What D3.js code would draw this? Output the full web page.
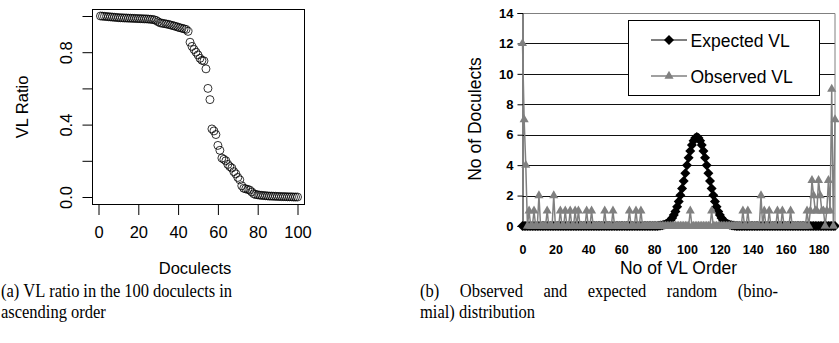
<!DOCTYPE html>
<html>
<head>
<meta charset="utf-8">
<script src="https://cdn.jsdelivr.net/npm/d3@7"></script>
<style>
body { margin: 0; background: #fff; }
svg { display: block; }
</style>
</head>
<body>
<svg id="chart" width="839" height="343"></svg>
<script>
// ---- panel (a): VL ratio per doculect, sorted ----
var ratioValues = [
  1.000, 0.999, 0.998, 0.997, 0.996, 0.995, 0.994, 0.993, 0.992, 0.991,
  0.990, 0.990, 0.989, 0.989, 0.988, 0.988, 0.987, 0.987, 0.986, 0.986,
  0.985, 0.985, 0.984, 0.984, 0.983, 0.982, 0.981, 0.979, 0.975, 0.968,
  0.962, 0.960, 0.958, 0.956, 0.954, 0.951, 0.948, 0.945, 0.942, 0.938,
  0.935, 0.932, 0.929, 0.926, 0.915, 0.855, 0.832, 0.815, 0.800, 0.785,
  0.766, 0.755, 0.752, 0.708, 0.600, 0.538, 0.376, 0.365, 0.345, 0.285,
  0.258, 0.215, 0.208, 0.200, 0.180, 0.168, 0.160, 0.140, 0.128, 0.108,
  0.095, 0.062, 0.048, 0.045, 0.042, 0.038, 0.028, 0.018, 0.014, 0.012,
  0.010, 0.009, 0.008, 0.007, 0.006, 0.005, 0.005, 0.004, 0.004, 0.003,
  0.003, 0.002, 0.002, 0.002, 0.001, 0.001, 0.001, 0.000, 0.000, 0.000
];
var ratioTicksX = [0, 20, 40, 60, 80, 100];
var ratioTicksY = [0, 0.2, 0.4, 0.6, 0.8, 1];
var ratioLabelsY = ["0.0", "", "0.4", "", "0.8", ""];
var ratioTitleX = "Doculects";
var ratioTitleY = "VL Ratio";

// ---- panel (b): number of doculects per count of VL orders ----
var orderMax = 190;
var orderTicks = [0, 20, 40, 60, 80, 100, 120, 140, 160, 180];
var countTicks = [0, 2, 4, 6, 8, 10, 12, 14];
// observed: [VL order count, doculects], every other category is 0
var observedCounts = [
  [0, 12], [1, 7], [2, 4], [4, 1], [7, 1], [10, 2], [15, 1], [19, 2],
  [23, 1], [26, 1], [29, 1], [32, 1], [34, 1], [39, 1], [42, 1], [50, 1],
  [55, 1], [65, 1], [69, 1], [72, 1], [102, 1], [115, 1], [134, 1], [137, 1],
  [145, 2], [147, 1], [150, 1], [155, 1], [158, 1], [163, 1], [173, 1], [175, 1],
  [176, 3], [177, 2], [178, 1], [179, 1], [180, 3], [181, 2], [182, 1], [183, 1],
  [185, 1], [186, 3], [187, 1], [188, 9], [190, 7]
];
// expected (binomial), starting at category 83, 0 elsewhere
var expectedStart = 83;
var expectedCounts = [
  0.02, 0.03, 0.05, 0.08, 0.12, 0.18, 0.27, 0.38, 0.53, 0.72,
  0.96, 1.26, 1.61, 2.02, 2.47, 2.96, 3.47, 3.99, 4.48, 4.93,
  5.32, 5.61, 5.79, 5.85, 5.79, 5.61, 5.32, 4.93, 4.48, 3.99,
  3.47, 2.96, 2.47, 2.02, 1.61, 1.26, 0.96, 0.72, 0.53, 0.38,
  0.27, 0.18, 0.12, 0.08, 0.05, 0.03, 0.02
];
var seriesNames = ["Expected VL", "Observed VL"];
var countTitleX = "No of VL Order";
var countTitleY = "No of Doculects";

var captionA = ["(a) VL ratio in the 100 doculects in", "ascending order"];
var captionB = ["(b) Observed and expected random (bino-", "mial) distribution"];

var svg = d3.select("#chart");
var grey = "#808080";

// ===================== panel (a) =====================
function drawRatio() {
    var x = d3.scaleLinear().domain([0, 100]).range([98.5, 297.5]);
    var y = d3.scaleLinear().domain([0, 1]).range([197, 16]);
    var font = "'Liberation Sans', Arial, Helvetica, sans-serif";

    var g = svg.append("g");

    g.append("rect")
        .attr("x", 92.5).attr("y", 9.5)
        .attr("width", 212).attr("height", 195)
        .attr("fill", "none").attr("stroke", "#000").attr("stroke-width", 1);

    g.selectAll("circle")
        .data(ratioValues)
        .enter()
        .append("circle")
        .attr("cx", function(d, i) { return x(i + 1); })
        .attr("cy", function(d) { return y(d); })
        .attr("r", 4)
        .attr("fill", "none")
        .attr("stroke", "#000")
        .attr("stroke-width", 0.8);

    // x axis
    var ax = g.append("g")
        .attr("transform", "translate(0,205)")
        .call(d3.axisBottom(x).tickValues(ratioTicksX).tickSize(10).tickFormat(d3.format("d")));
    ax.select(".domain").remove();
    ax.selectAll("line").attr("stroke", "#000");
    ax.selectAll("text")
        .attr("y", 33).attr("dy", 0)
        .attr("fill", "#000")
        .style("font-family", font).style("font-size", "16.5px");

    // y axis, labels turned like R does
    var ay = g.append("g")
        .attr("transform", "translate(92.5,0)")
        .call(d3.axisLeft(y).tickValues(ratioTicksY).tickSize(10)
            .tickFormat(function(d, i) { return ratioLabelsY[i]; }));
    ay.select(".domain").remove();
    ay.selectAll("line").attr("stroke", "#000");
    ay.selectAll("text")
        .attr("x", 0).attr("y", 0).attr("dy", 0)
        .attr("transform", "translate(-21,0) rotate(-90)")
        .attr("text-anchor", "middle")
        .attr("fill", "#000")
        .style("font-family", font).style("font-size", "16.5px");

    g.append("text")
        .attr("x", 195).attr("y", 274)
        .attr("text-anchor", "middle")
        .style("font-family", font).style("font-size", "16.5px")
        .text(ratioTitleX);
    g.append("text")
        .attr("transform", "translate(28,107) rotate(-90)")
        .attr("text-anchor", "middle")
        .style("font-family", font).style("font-size", "16.5px")
        .text(ratioTitleY);
}

// ===================== panel (b) =====================
function drawCounts() {
    var x = d3.scaleLinear().domain([0, orderMax]).range([522.5, 835]);
    var y = d3.scaleLinear().domain([0, 14]).range([226, 13]);
    var font = "'Liberation Sans', Arial, sans-serif";

    var categories = d3.range(0, orderMax + 1);
    var obsMap = new Map(observedCounts);
    var observed = categories.map(function(c) { return {k: c, v: obsMap.get(c) || 0}; });
    var expected = categories.map(function(c) {
        var j = c - expectedStart;
        return {k: c, v: (j >= 0 && j < expectedCounts.length) ? expectedCounts[j] : 0};
    });

    var g = svg.append("g");

    // grid lines, top one is the grey plot border
    g.selectAll("line.grid")
        .data(countTicks.filter(function(d) { return d > 0; }))
        .enter()
        .append("line")
        .attr("class", "grid")
        .attr("x1", x(0)).attr("x2", x(orderMax))
        .attr("y1", function(d) { return Math.round(y(d)) + 0.5; })
        .attr("y2", function(d) { return Math.round(y(d)) + 0.5; })
        .attr("stroke", function(d) { return d === 14 ? grey : "#111"; })
        .attr("stroke-width", 1);
    g.append("line")
        .attr("x1", x(orderMax)).attr("x2", x(orderMax))
        .attr("y1", Math.round(y(14)) + 0.5).attr("y2", y(0))
        .attr("stroke", grey);

    // axes
    var ay = g.append("g")
        .attr("transform", "translate(522.5,0)")
        .call(d3.axisLeft(y).tickValues(countTicks).tickSize(5).tickPadding(4));
    ay.select(".domain").attr("stroke", "#000");
    ay.selectAll("line").attr("stroke", "#000");
    ay.selectAll("text")
        .attr("fill", "#000")
        .style("font-family", font).style("font-size", "13px").style("font-weight", "bold");

    var ax = g.append("g")
        .attr("transform", "translate(0,226)")
        .call(d3.axisBottom(x).tickValues(orderTicks).tickSize(0));
    ax.select(".domain").attr("stroke", "#000");
    ax.selectAll("text")
        .attr("y", 28).attr("dy", 0)
        .attr("fill", "#000")
        .style("font-family", font).style("font-size", "12.5px").style("font-weight", "bold");

    var line = d3.line()
        .x(function(d) { return x(d.k); })
        .y(function(d) { return y(d.v); });

    var diamond = d3.symbol(d3.symbolSquare, 50);
    var triangle = d3.symbol(d3.symbolTriangle, 36);

    // expected series
    g.append("path")
        .datum(expected)
        .attr("d", line)
        .attr("fill", "none").attr("stroke", "#000").attr("stroke-width", 1);
    g.selectAll("path.exp")
        .data(expected)
        .enter()
        .append("path")
        .attr("class", "exp")
        .attr("d", diamond)
        .attr("transform", function(d) { return "translate(" + x(d.k) + "," + y(d.v) + ") rotate(45)"; })
        .attr("fill", "#000");

    // observed series
    g.append("path")
        .datum(observed)
        .attr("d", line)
        .attr("fill", "none").attr("stroke", grey).attr("stroke-width", 1.5);
    g.selectAll("path.obs")
        .data(observed)
        .enter()
        .append("path")
        .attr("class", "obs")
        .attr("d", triangle)
        .attr("transform", function(d) { return "translate(" + x(d.k) + "," + y(d.v) + ")"; })
        .attr("fill", grey);

    // legend
    var lg = g.append("g").attr("transform", "translate(628.5,20.5)");
    lg.append("rect")
        .attr("width", 191).attr("height", 75)
        .attr("fill", "#fff").attr("stroke", "#000").attr("stroke-width", 1);
    var rows = [
        {name: seriesNames[0], color: "#000", sym: diamond, rot: " rotate(45)", w: 1, ty: 19.5},
        {name: seriesNames[1], color: grey, sym: triangle, rot: "", w: 1.5, ty: 55.5}
    ];
    rows.forEach(function(r) {
        lg.append("line")
            .attr("x1", 22.5).attr("x2", 58.5)
            .attr("y1", r.ty).attr("y2", r.ty)
            .attr("stroke", r.color).attr("stroke-width", r.w);
        lg.append("path")
            .attr("d", r.sym)
            .attr("transform", "translate(40.5," + r.ty + ")" + r.rot)
            .attr("fill", r.color);
        lg.append("text")
            .attr("x", 62).attr("y", r.ty + 6.5)
            .style("font-family", font).style("font-size", "17.5px")
            .text(r.name);
    });

    // axis titles
    g.append("text")
        .attr("x", 678.5).attr("y", 274)
        .attr("text-anchor", "middle")
        .style("font-family", font).style("font-size", "17.5px")
        .text(countTitleX);
    g.append("text")
        .attr("transform", "translate(481,119) rotate(-90)")
        .attr("text-anchor", "middle")
        .style("font-family", font).style("font-size", "17.5px")
        .text(countTitleY);
}

// justified caption line, words spread between x0 and x1;
// glyphs are a little taller than wide in the scanned figure
var captionStretch = 1.13;
function captionText(g, str, x, y) {
    return g.append("text")
        .attr("transform", "translate(" + x + "," + y + ") scale(1," + captionStretch + ")")
        .text(str);
}

function justifyLine(g, str, x0, x1, y) {
    var words = str.split(" ");
    var nodes = words.map(function(w) { return captionText(g, w, 0, y); });
    var widths = nodes.map(function(n) { return n.node().getComputedTextLength(); });
    var gap = (x1 - x0 - d3.sum(widths)) / (words.length - 1);
    var pos = x0;
    nodes.forEach(function(n, i) {
        n.attr("transform", "translate(" + pos + "," + y + ") scale(1," + captionStretch + ")");
        pos += widths[i] + gap;
    });
}

function drawCaptions() {
    var g = svg.append("g")
        .style("font-family", "'Liberation Serif', 'Times New Roman', serif")
        .style("font-size", "16.5px")
        .attr("fill", "#000");
    justifyLine(g, captionA[0], 1, 232, 296.5);
    captionText(g, captionA[1], 1, 318);
    justifyLine(g, captionB[0], 420, 778, 296.5);
    captionText(g, captionB[1], 420, 318);
}

drawRatio();
drawCounts();
drawCaptions();
</script>
</body>
</html>
